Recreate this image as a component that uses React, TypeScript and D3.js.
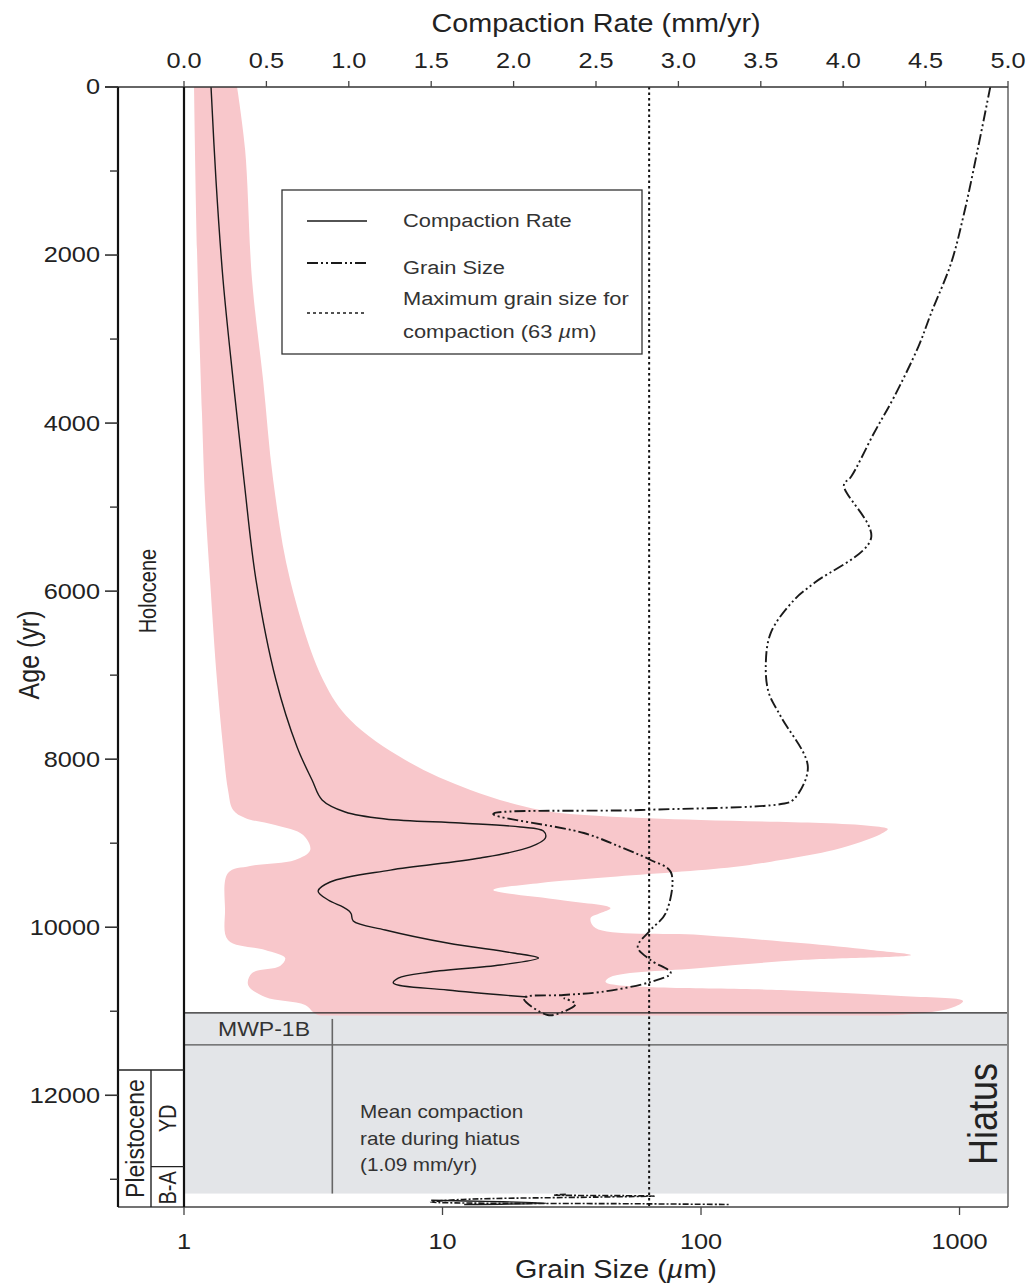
import React from 'react';
import * as d3 from 'd3';

// Axis ticks
const ageTicks = [0, 2000, 4000, 6000, 8000, 10000, 12000];
const ageMinorTicks = [1000, 3000, 5000, 7000, 9000, 11000, 13000];
const rateTicks = [0, 0.5, 1, 1.5, 2, 2.5, 3, 3.5, 4, 4.5, 5];
const grainTicks = [1, 10, 100, 1000];

// Compaction rate: [age (yr), rate (mm/yr)]
const compactionRate: [number, number][] = [
  [0, 0.164], [1107, 0.194], [2297, 0.237], [3487, 0.298], [4677, 0.364],
  [5868, 0.437], [7058, 0.558], [7855, 0.686], [8248, 0.777], [8486, 0.838],
  [8629, 0.978], [8712, 1.221], [8760, 1.677], [8807, 2.041], [8855, 2.181],
  [8939, 2.193], [9045, 2.102], [9177, 1.798], [9320, 1.252], [9462, 0.887],
  [9570, 0.814], [9676, 0.875], [9760, 0.966], [9807, 1.002], [9843, 1.015],
  [9926, 1.027], [10033, 1.221], [10188, 1.598], [10307, 1.999], [10367, 2.151],
  [10450, 1.92], [10533, 1.495], [10605, 1.3], [10664, 1.27], [10748, 1.598],
  [10831, 2.084],
];

// Compaction rate uncertainty envelope: upper and lower bounds [age, rate]
const bandUpper: [number, number][] = [
  [0, 0.322], [750, 0.371], [2297, 0.413], [3487, 0.48], [4677, 0.541],
  [5868, 0.644], [7058, 0.844], [7534, 1.009], [8010, 1.343], [8367, 1.738],
  [8605, 2.163], [8677, 2.527], [8724, 3.135], [8760, 3.864], [8795, 4.168],
  [8831, 4.271], [8891, 4.229], [8986, 4.107], [9081, 3.943], [9200, 3.621],
  [9284, 3.335], [9403, 2.588], [9474, 2.163], [9557, 1.877], [9676, 2.284],
  [9772, 2.588], [9831, 2.527], [9891, 2.467], [10010, 2.497], [10093, 3.135],
  [10188, 3.742], [10271, 4.168], [10331, 4.411], [10391, 3.742], [10486, 3.135],
  [10593, 2.588], [10652, 2.558], [10748, 3.621], [10819, 4.35], [10879, 4.727],
  [10962, 4.654], [11050, 4.3],
];
const bandLower: [number, number][] = [
  [0, 0.061], [1940, 0.079], [3880, 0.109], [4915, 0.128], [5868, 0.158],
  [7058, 0.2], [7855, 0.237], [8367, 0.267], [8605, 0.298], [8700, 0.371],
  [8784, 0.553], [8903, 0.723], [9081, 0.766], [9200, 0.674], [9272, 0.401],
  [9355, 0.267], [9795, 0.249], [10153, 0.267], [10271, 0.492], [10367, 0.614],
  [10462, 0.583], [10545, 0.413], [10688, 0.389], [10831, 0.492], [10926, 0.735],
  [11050, 0.82],
];

// Grain size: [age (yr), size (µm)]
const grainSize: [number, number][] = [
  [0, 1315], [714, 1181], [1500, 1042], [2095, 928], [2690, 777], [3095, 692],
  [3690, 558], [4118, 467], [4642, 380], [4737, 357], [5368, 455], [5904, 274],
  [6106, 229], [6499, 186], [6903, 178], [7213, 183], [7498, 204], [8093, 259],
  [8486, 227], [8534, 204], [8605, 58.4], [8653, 15.7], [8879, 35.2], [9081, 52],
  [9200, 63.8], [9343, 76.4], [9831, 73.1], [10033, 63.8], [10236, 56.9],
  [10391, 63.8], [10545, 76.4], [10652, 63.8], [10771, 40.9], [10807, 29.4],
  [10843, 20.6], [11045, 25.5], [11009, 29.2], [10914, 32.7], [10843, 29.4],
];

// Values below the hiatus
const grainSizeBelow: [number, number][] = [
  [13180, 30], [13188, 27], [13195, 50], [13200, 66], [13212, 40],
  [13240, 12], [13270, 9], [13292, 60], [13300, 130],
];
const compactionRateBelow: [number, number][] = [
  [13250, 1.5], [13285, 2.2], [13300, 1.7],
];

// Stratigraphy (yr)
const holoceneEnd = 11700;
const ydEnd = 12850;
const hiatusTop = 11020;
const mwpBottom = 11400;
const hiatusBottom = 13170;
const maxGrainForCompaction = 63;
const mwpDividerRate = 0.9;

const FONT = "'Liberation Sans', Arial, Helvetica, sans-serif";
const SX = 1.15;
const INK = '#222';

type LabelProps = {
  x: number; y: number; size: number; rotate?: number;
  anchor?: 'start' | 'middle' | 'end'; baseline?: string; fill?: string;
  children: React.ReactNode;
};
function Label({ x, y, size, rotate = 0, anchor = 'middle', baseline, fill = INK, children }: LabelProps) {
  const t = `translate(${x},${y}) scale(${SX},1)` + (rotate ? ` rotate(${rotate})` : '');
  return (
    <text transform={t} fontSize={size} textAnchor={anchor} dominantBaseline={baseline}
      fill={fill} fontFamily={FONT}>{children}</text>
  );
}

export default function App() {
  const left = 184, right = 1008, top = 87, bottom = 1207;
  const colLeft = 118, colMid = 151;

  const y = d3.scaleLinear().domain([0, 13330]).range([top, bottom]);
  const xr = d3.scaleLinear().domain([0, 5]).range([left, right]);
  const xg = d3.scaleLog().domain([1, 1540]).range([left, right]);

  const rateLine = d3.line<[number, number]>()
    .x(d => xr(d[1])).y(d => y(d[0]))
    .curve(d3.curveCatmullRom.alpha(0.5));
  const grainLine = d3.line<[number, number]>()
    .x(d => xg(d[1])).y(d => y(d[0]))
    .curve(d3.curveCatmullRom.alpha(0.5));

  const bandPath = rateLine([...bandUpper, ...bandLower.slice().reverse()]) + 'Z';
  const fmt = d3.format('.1f');

  const gray = '#e3e5e8';
  const pink = '#f8c7cb';
  const dashDot = '11,3,2,3,2,3';

  return (
    <svg width={1031} height={1284} style={{ position: 'absolute', left: 0, top: 0, background: '#fff' }}>
      <defs>
        <clipPath id="bandClip">
          <rect x={left} y={top} width={right - left} height={y(11050) - top} />
        </clipPath>
        <clipPath id="plotClip">
          <rect x={left} y={top} width={right - left} height={bottom - top} />
        </clipPath>
      </defs>

      {/* hiatus shading */}
      <rect x={left} y={y(hiatusTop)} width={right - left} height={y(hiatusBottom) - y(hiatusTop)} fill={gray} />

      {/* uncertainty envelope */}
      <path d={bandPath} fill={pink} stroke="none" clipPath="url(#bandClip)" />

      <g clipPath="url(#plotClip)">
        <path d={rateLine(compactionRate) || ''} fill="none" stroke="#1a1a1a" strokeWidth={1.4} />
        <path d={rateLine(compactionRateBelow) || ''} fill="none" stroke="#1a1a1a" strokeWidth={1.4} />
        <path d={grainLine(grainSize) || ''} fill="none" stroke="#1a1a1a" strokeWidth={1.9} strokeDasharray={dashDot} />
        <path d={grainLine(grainSizeBelow) || ''} fill="none" stroke="#1a1a1a" strokeWidth={1.6} strokeDasharray="6,2,2,2" />
      </g>

      {/* 63 µm limit */}
      <line x1={xg(maxGrainForCompaction)} x2={xg(maxGrainForCompaction)} y1={top} y2={bottom}
        stroke="#111" strokeWidth={2} strokeDasharray="2.5,3" />

      {/* hiatus / MWP-1B boundaries */}
      <line x1={left} x2={right} y1={y(hiatusTop)} y2={y(hiatusTop)} stroke="#222" strokeWidth={1.4} />
      <line x1={left} x2={right} y1={y(mwpBottom)} y2={y(mwpBottom)} stroke="#555" strokeWidth={1.4} />
      <line x1={xr(mwpDividerRate)} x2={xr(mwpDividerRate)} y1={y(hiatusTop) + 6} y2={y(hiatusBottom)} stroke="#666" strokeWidth={1.6} />

      {/* frame */}
      <line x1={right} x2={right} y1={top} y2={bottom} stroke="#8a8a8a" strokeWidth={2} />
      <line x1={colLeft} x2={right} y1={bottom} y2={bottom} stroke="#444" strokeWidth={1.6} />
      <line x1={105} x2={right} y1={top} y2={top} stroke="#333" strokeWidth={1.6} />
      <line x1={left} x2={left} y1={top} y2={bottom} stroke="#111" strokeWidth={2.2} />
      <line x1={colLeft} x2={colLeft} y1={top} y2={bottom} stroke="#111" strokeWidth={2.2} />

      {/* epoch column */}
      <line x1={colLeft} x2={left} y1={y(holoceneEnd)} y2={y(holoceneEnd)} stroke="#222" strokeWidth={1.4} />
      <line x1={colMid} x2={colMid} y1={y(holoceneEnd)} y2={bottom} stroke="#222" strokeWidth={1.4} />
      <line x1={colMid} x2={left} y1={y(ydEnd)} y2={y(ydEnd)} stroke="#222" strokeWidth={1.4} />
      <Label x={148} y={y(6000)} size={20} rotate={-90} baseline="central">Holocene</Label>
      <Label x={135} y={(y(holoceneEnd) + bottom) / 2} size={23} rotate={-90} baseline="central">Pleistocene</Label>
      <Label x={168} y={(y(holoceneEnd) + y(ydEnd)) / 2} size={20} rotate={-90} baseline="central">YD</Label>
      <Label x={168} y={(y(ydEnd) + bottom) / 2 + 1} size={20} rotate={-90} baseline="central">B-A</Label>

      {/* left age axis */}
      {ageTicks.map(t => (
        <g key={'a' + t}>
          <line x1={105} x2={colLeft} y1={y(t)} y2={y(t)} stroke="#333" strokeWidth={1.6} />
          <Label x={100} y={y(t)} size={22} anchor="end" baseline="central">{t}</Label>
        </g>
      ))}
      {ageMinorTicks.map(t => (
        <line key={'m' + t} x1={110} x2={colLeft} y1={y(t)} y2={y(t)} stroke="#333" strokeWidth={1.4} />
      ))}
      <Label x={29} y={655} size={25} rotate={-90} baseline="central">Age (yr)</Label>

      {/* top compaction rate axis */}
      {rateTicks.map(t => (
        <g key={'r' + t}>
          <line x1={xr(t)} x2={xr(t)} y1={top} y2={top - 6} stroke="#444" strokeWidth={1.3} />
          <Label x={xr(t)} y={68} size={22}>{fmt(t)}</Label>
        </g>
      ))}
      <Label x={596} y={32} size={25}>Compaction Rate (mm/yr)</Label>

      {/* bottom grain size axis */}
      {grainTicks.map(t => (
        <g key={'g' + t}>
          <line x1={xg(t)} x2={xg(t)} y1={bottom} y2={bottom + 8} stroke="#444" strokeWidth={1.3} />
          <Label x={xg(t)} y={1249} size={22}>{t}</Label>
        </g>
      ))}
      <Label x={616} y={1278} size={25}>
        Grain Size (<tspan fontStyle="italic">µ</tspan>m)
      </Label>

      {/* hiatus annotations */}
      <Label x={264} y={y(hiatusTop) + 16} size={20} baseline="central" fill="#333">MWP-1B</Label>
      <Label x={360} y={1118} size={18} anchor="start" fill="#333">Mean compaction</Label>
      <Label x={360} y={1145} size={18} anchor="start" fill="#333">rate during hiatus</Label>
      <Label x={360} y={1171} size={18} anchor="start" fill="#333">(1.09 mm/yr)</Label>
      <Label x={983} y={1114} size={36} rotate={-90} baseline="central" fill="#222">Hiatus</Label>

      {/* legend */}
      <rect x={282} y={190} width={360} height={164} fill="#fff" stroke="#333" strokeWidth={1.3} />
      <line x1={307} x2={367} y1={221} y2={221} stroke="#1a1a1a" strokeWidth={1.4} />
      <line x1={307} x2={367} y1={263} y2={263} stroke="#1a1a1a" strokeWidth={1.9} strokeDasharray={dashDot} />
      <line x1={307} x2={367} y1={313} y2={313} stroke="#1a1a1a" strokeWidth={1.6} strokeDasharray="3,3" />
      <Label x={403} y={227} size={19} anchor="start" fill="#333">Compaction Rate</Label>
      <Label x={403} y={274} size={19} anchor="start" fill="#333">Grain Size</Label>
      <Label x={403} y={305} size={19} anchor="start" fill="#333">Maximum grain size for</Label>
      <Label x={403} y={338} size={19} anchor="start" fill="#333">
        compaction (63 <tspan fontStyle="italic">µ</tspan>m)
      </Label>
    </svg>
  );
}
